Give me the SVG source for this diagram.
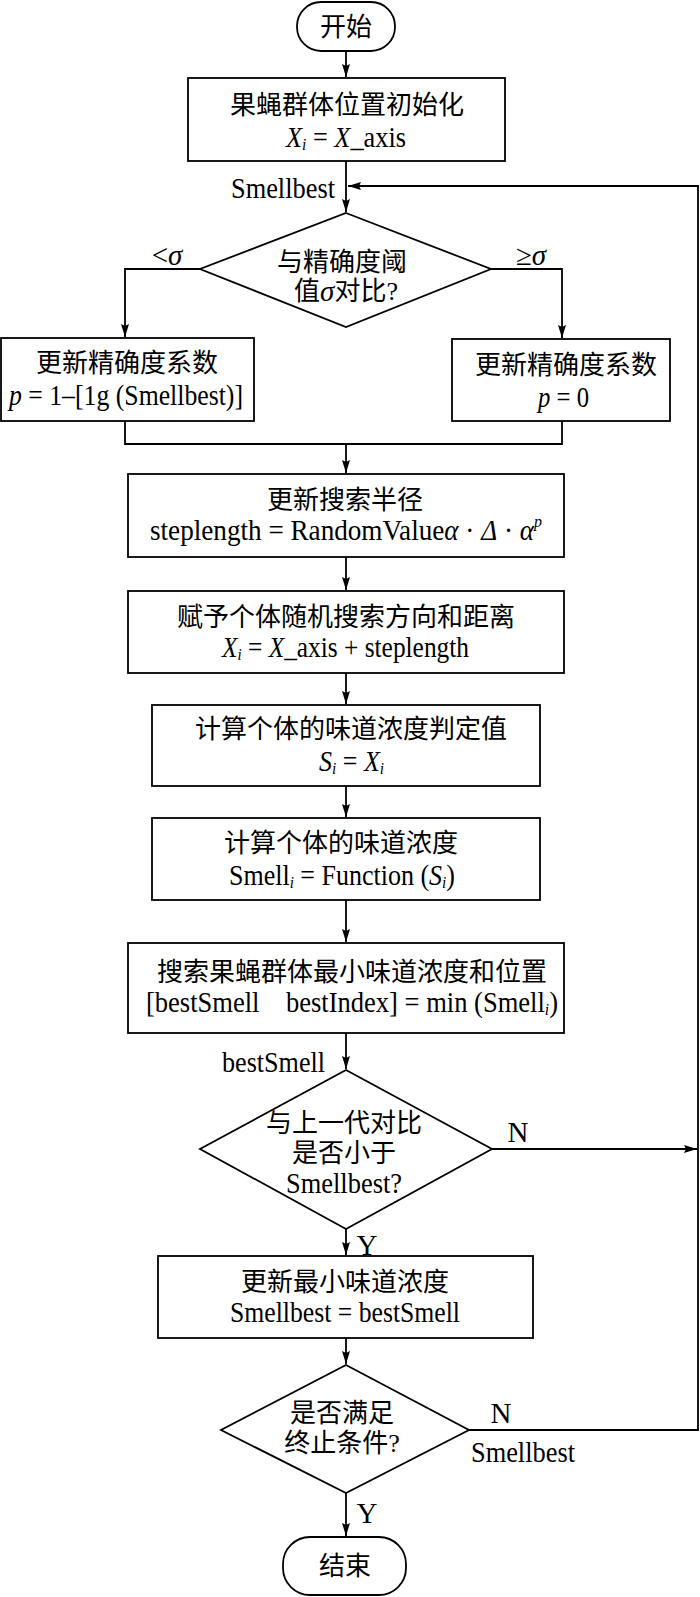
<svg xmlns="http://www.w3.org/2000/svg" width="700" height="1597" viewBox="0 0 700 1597">
<style>
.s{fill:#fff;stroke:#000;stroke-width:1.8}
.c{fill:none;stroke:#000;stroke-width:1.8}
text{font-family:"Liberation Serif","Noto Sans CJK SC",serif;font-size:26px;fill:#000;dominant-baseline:central}
.L{font-size:29px}
.m{text-anchor:middle}
.i{font-style:italic}
.sub{font-size:17px;font-style:italic}
</style>
<defs>
<marker id="a" markerUnits="userSpaceOnUse" markerWidth="14" markerHeight="10" refX="13" refY="4" orient="auto">
<path d="M0,0 L13,4 L0,8 L2,4 z" fill="#000"/>
</marker>
</defs>
<g id="connectors">
<path class="c" d="M346,51 V77" marker-end="url(#a)"/>
<path class="c" d="M346,161 V212" marker-end="url(#a)"/>
<path class="c" d="M469,1430 H698 V186 H348" marker-end="url(#a)"/>
<path class="c" d="M492,1149 H697" marker-end="url(#a)"/>
<path class="c" d="M200,269 H125 V337" marker-end="url(#a)"/>
<path class="c" d="M491,269 H562 V338" marker-end="url(#a)"/>
<path class="c" d="M125,421 V444 H562 V421"/>
<path class="c" d="M346,444 V473" marker-end="url(#a)"/>
<path class="c" d="M346,557 V590" marker-end="url(#a)"/>
<path class="c" d="M346,673 V704" marker-end="url(#a)"/>
<path class="c" d="M346,786 V817" marker-end="url(#a)"/>
<path class="c" d="M346,900 V942" marker-end="url(#a)"/>
<path class="c" d="M346,1033 V1069" marker-end="url(#a)"/>
<path class="c" d="M346,1229 V1255" marker-end="url(#a)"/>
<path class="c" d="M346,1338 V1364" marker-end="url(#a)"/>
<path class="c" d="M346,1493 V1536" marker-end="url(#a)"/>
</g>
<g id="labels">
<text x="231" y="188" class="L" textLength="104" lengthAdjust="spacingAndGlyphs">Smellbest</text>
<text x="167" y="255" class="m L">&lt;<tspan class="i">σ</tspan></text>
<text x="531" y="255" class="m L">≥<tspan class="i">σ</tspan></text>
<text x="222" y="1062" class="L" textLength="103" lengthAdjust="spacingAndGlyphs">bestSmell</text>
<text x="518" y="1132" class="m L">N</text>
<text x="367" y="1245" class="m L">Y</text>
<text x="501" y="1413" class="m L">N</text>
<text x="471" y="1452" class="L" textLength="104" lengthAdjust="spacingAndGlyphs">Smellbest</text>
<text x="367" y="1513" class="m L">Y</text>
</g>
<g id="start">
<rect class="s" x="297" y="2" width="98" height="49" rx="24"/>
<text x="346" y="27" class="m">开始</text>
</g>
<g id="init">
<rect class="s" x="188" y="78" width="317" height="83"/>
<text x="347" y="105" class="m">果蝇群体位置初始化</text>
<text x="286" y="137" class="L" textLength="120" lengthAdjust="spacingAndGlyphs"><tspan class="i">X</tspan><tspan class="sub" dy="7">i</tspan><tspan dy="-7"> = </tspan><tspan class="i">X</tspan>_axis</text>
</g>
<g id="cmp-sigma">
<polygon class="s" points="346,213 491,269 346,327 200,269"/>
<text x="342" y="262" class="m">与精确度阈</text>
<text x="346" y="291" class="m">值<tspan class="i L">σ</tspan>对比?</text>
</g>
<g id="p-log">
<rect class="s" x="1" y="338" width="253" height="83"/>
<text x="127" y="363" class="m">更新精确度系数</text>
<text x="9" y="395" class="L" textLength="234" lengthAdjust="spacingAndGlyphs"><tspan class="i">p</tspan> = 1–[1g (Smellbest)]</text>
</g>
<g id="p-zero">
<rect class="s" x="452" y="339" width="218" height="82"/>
<text x="566" y="365" class="m">更新精确度系数</text>
<text x="538" y="397" class="L" textLength="51" lengthAdjust="spacingAndGlyphs"><tspan class="i">p</tspan> = 0</text>
</g>
<g id="radius">
<rect class="s" x="128" y="474" width="436" height="83"/>
<text x="345" y="500" class="m">更新搜索半径</text>
<text x="150" y="530" class="L" textLength="392" lengthAdjust="spacingAndGlyphs">steplength = RandomValue<tspan class="i">α</tspan> · <tspan class="i">Δ</tspan> · <tspan class="i">α</tspan><tspan font-size="17" class="i" dy="-9">p</tspan></text>
</g>
<g id="direction">
<rect class="s" x="128" y="591" width="436" height="82"/>
<text x="346" y="617" class="m">赋予个体随机搜索方向和距离</text>
<text x="222" y="647" class="L" textLength="247" lengthAdjust="spacingAndGlyphs"><tspan class="i">X</tspan><tspan class="sub" dy="7">i</tspan><tspan dy="-7"> = </tspan><tspan class="i">X</tspan>_axis + steplength</text>
</g>
<g id="judge">
<rect class="s" x="152" y="705" width="388" height="81"/>
<text x="351" y="729" class="m">计算个体的味道浓度判定值</text>
<text x="319" y="761" class="L" textLength="65" lengthAdjust="spacingAndGlyphs"><tspan class="i">S</tspan><tspan class="sub" dy="7">i</tspan><tspan dy="-7"> = </tspan><tspan class="i">X</tspan><tspan class="sub" dy="7">i</tspan></text>
</g>
<g id="smell">
<rect class="s" x="152" y="818" width="388" height="82"/>
<text x="341" y="843" class="m">计算个体的味道浓度</text>
<text x="229" y="875" class="L" textLength="226" lengthAdjust="spacingAndGlyphs">Smell<tspan class="sub" dy="7">i</tspan><tspan dy="-7"> = Function (</tspan><tspan class="i">S</tspan><tspan class="sub" dy="7">i</tspan><tspan dy="-7">)</tspan></text>
</g>
<g id="search">
<rect class="s" x="128" y="943" width="436" height="90"/>
<text x="352" y="972" class="m">搜索果蝇群体最小味道浓度和位置</text>
<text x="146" y="1002" class="L" textLength="412" lengthAdjust="spacingAndGlyphs" xml:space="preserve">[bestSmell    bestIndex] = min (Smell<tspan class="sub" dy="7">i</tspan><tspan dy="-7">)</tspan></text>
</g>
<g id="cmp-prev">
<polygon class="s" points="346,1070 492,1149 346,1229 200,1149"/>
<text x="344" y="1123" class="m">与上一代对比</text>
<text x="344" y="1153" class="m">是否小于</text>
<text x="286" y="1183" class="L" textLength="116" lengthAdjust="spacingAndGlyphs">Smellbest?</text>
</g>
<g id="update-min">
<rect class="s" x="158" y="1256" width="375" height="82"/>
<text x="345" y="1282" class="m">更新最小味道浓度</text>
<text x="230" y="1312" class="L" textLength="230" lengthAdjust="spacingAndGlyphs">Smellbest = bestSmell</text>
</g>
<g id="terminate">
<polygon class="s" points="346,1365 469,1430 346,1493 221,1430"/>
<text x="342" y="1413" class="m">是否满足</text>
<text x="342" y="1443" class="m">终止条件?</text>
</g>
<g id="end">
<rect class="s" x="283" y="1537" width="123" height="58" rx="27"/>
<text x="345" y="1566" class="m">结束</text>
</g>
</svg>
